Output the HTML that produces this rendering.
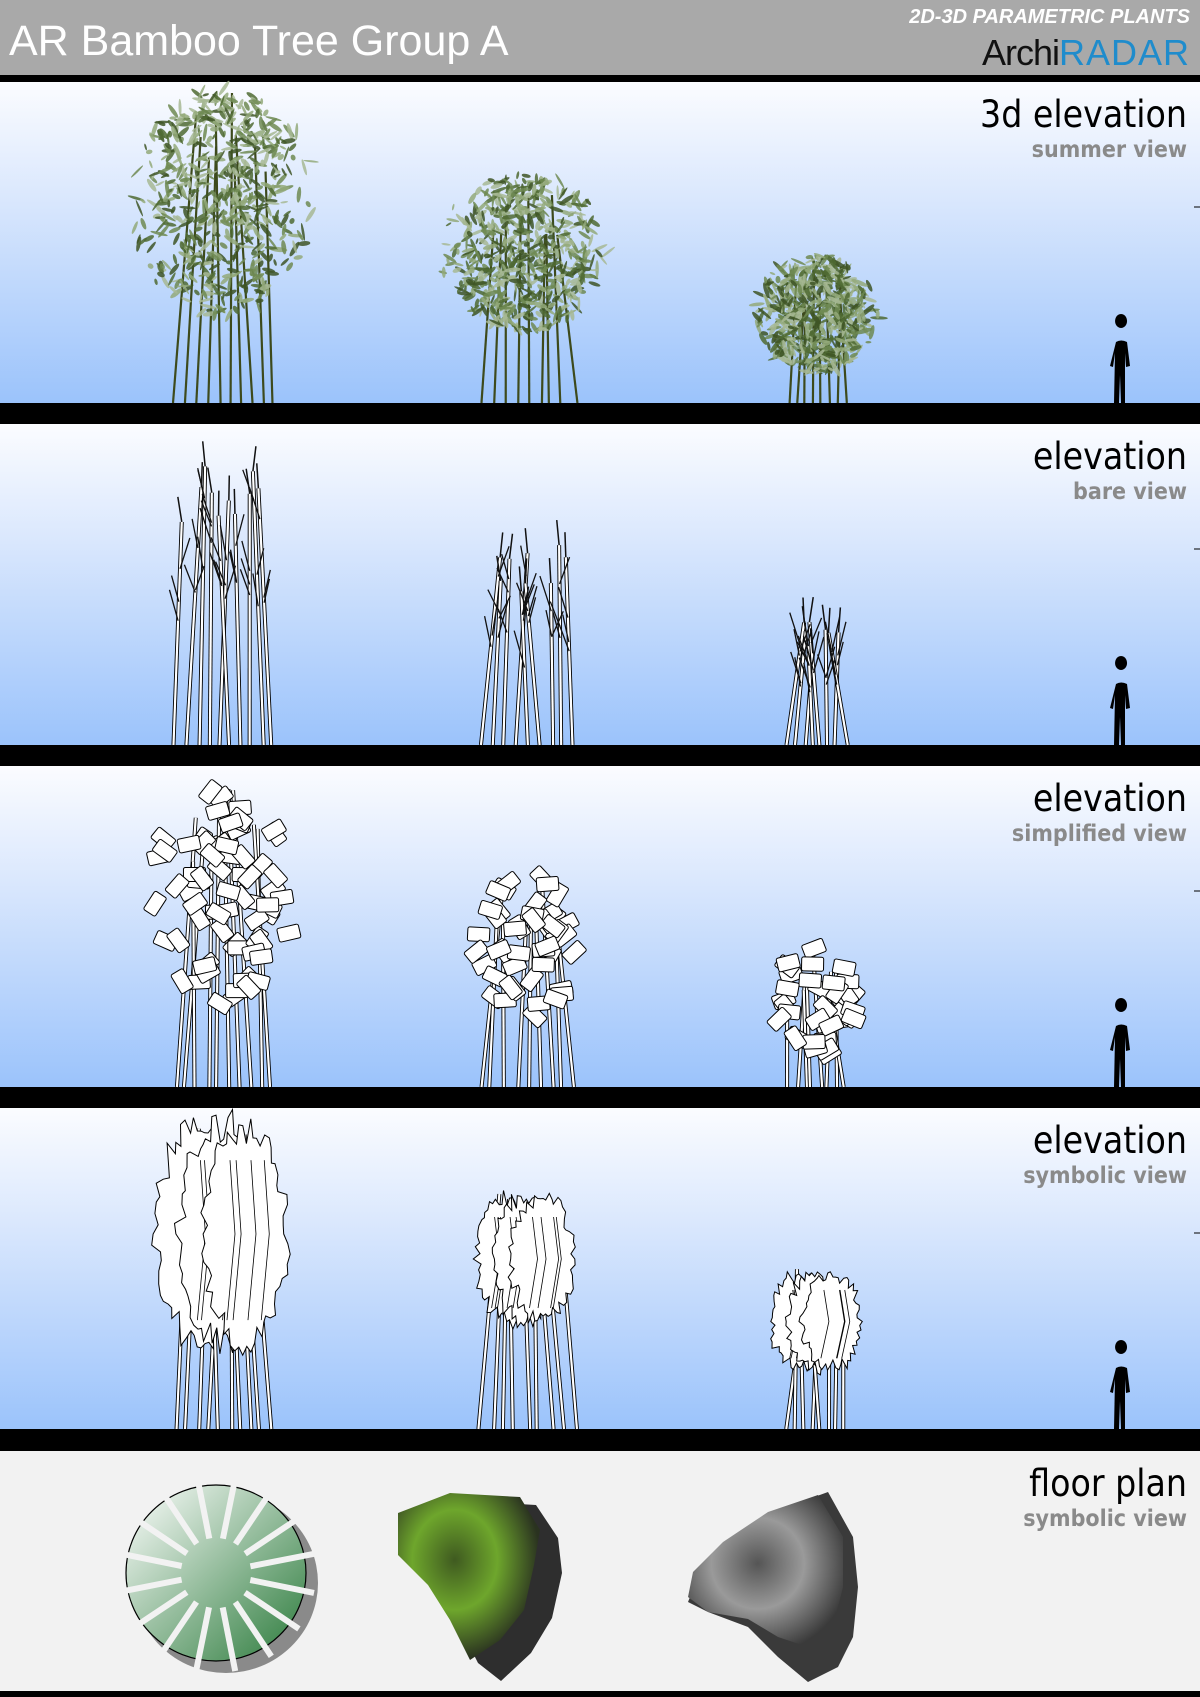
<!DOCTYPE html>
<html><head><meta charset="utf-8">
<style>
html,body{margin:0;padding:0;width:1200px;height:1697px;overflow:hidden;background:#f2f2f2}
#wrap{position:relative;width:1200px;height:1697px}
.hdr{position:absolute;left:0;top:0;width:1200px;height:75px;background:#a9a9a9}
.bar{position:absolute;left:0;width:1200px;background:#000}
.sky{position:absolute;left:0;width:1200px;height:321px;background:linear-gradient(#fbfcff,#dbe8fd 35%,#9bc3fb)}
.title{position:absolute;left:9px;top:17px;font:43px "Liberation Sans",sans-serif;color:#fff;white-space:nowrap}
.t2{position:absolute;right:10px;top:6px;font:italic bold 20px "Liberation Sans",sans-serif;color:#fff}
.logo{position:absolute;right:10px;top:32px;font:36px "Liberation Sans",sans-serif;white-space:nowrap}
.lb{position:absolute;right:13px;text-align:right;font-family:"DejaVu Sans Condensed","DejaVu Sans",sans-serif;color:#000;font-size:37px;line-height:42px}
.lb span{display:block;font-weight:bold;font-size:23px;color:#8a8a8a;line-height:28px}
svg{position:absolute;left:0;top:0}
</style></head><body><div id="wrap">
<div class="hdr"></div>
<div class="title">AR Bamboo Tree Group A</div>
<div class="t2">2D-3D PARAMETRIC PLANTS</div>
<div class="logo"><span style="font-weight:100;color:#111;letter-spacing:-1px">Archi</span><span style="color:#1f8ccc;letter-spacing:1px">RADAR</span></div>
<div class="bar" style="top:75px;height:7px"></div>
<div class="sky" style="top:82px"></div><div class="bar" style="top:403px;height:21px"></div>
<div class="sky" style="top:424px"></div><div class="bar" style="top:745px;height:21px"></div>
<div class="sky" style="top:766px"></div><div class="bar" style="top:1087px;height:21px"></div>
<div class="sky" style="top:1108px"></div><div class="bar" style="top:1429px;height:22px"></div>
<div class="bar" style="top:1691px;height:6px"></div>

<svg id="s" width="1200" height="1697" viewBox="0 0 1200 1697">
<defs>
<linearGradient id="gg" x1="0" y1="0" x2="1" y2="1"><stop offset="0" stop-color="#ffffff"/><stop offset="1" stop-color="#2a7a3a"/></linearGradient>
<radialGradient id="gb" cx="0.4" cy="0.4" r="0.6"><stop offset="0" stop-color="#3f5a20"/><stop offset="0.5" stop-color="#6ea62c"/><stop offset="1" stop-color="#2a3220"/></radialGradient>
<radialGradient id="gy" cx="0.45" cy="0.45" r="0.6"><stop offset="0" stop-color="#555"/><stop offset="0.5" stop-color="#9a9a9a"/><stop offset="1" stop-color="#3a3a3a"/></radialGradient>
<path id="man" d="M8 0 a6 7 0 1 1 0.1 0 M3 14 q5-3 11 0 l3 24 -4 1 -1 -14 0 50 -4 0 -1 -28 -1 28 -5 0 1 -50 -2 14 -3 -1z"/>
</defs>
<g id="tr"></g>
<g stroke="#000" stroke-width="1"><line x1="1194" y1="207" x2="1200" y2="207"/><line x1="1194" y1="549" x2="1200" y2="549"/><line x1="1194" y1="891" x2="1200" y2="891"/><line x1="1194" y1="1233" x2="1200" y2="1233"/></g>
<g fill="#000">
<use href="#man" transform="translate(1113,328)"/>
<use href="#man" transform="translate(1113,670)"/>
<use href="#man" transform="translate(1113,1012)"/>
<use href="#man" transform="translate(1113,1354)"/>
</g>
<g transform="translate(216,1573)">
<ellipse cx="10" cy="10" rx="92" ry="90" fill="#8a8a8a"/>
<ellipse cx="0" cy="0" rx="90" ry="88" fill="url(#gg)" stroke="#000" stroke-width="1.2"/>
<g id="cuts" stroke="#f2f2f2" stroke-width="6"></g>
</g>
<g transform="translate(490,1585)">
<path id="gbl" d="M-92,-72 L-40,-92 30,-88 52,-55 56,-20 46,25 25,60 -5,88 -28,70 -48,30 -70,-5 -95,-35Z" fill="#2e2e2e" transform="translate(16,8)"/>
<path d="M-92,-72 L-40,-92 30,-88 50,-55 44,-20 34,25 10,55 -20,75 -40,35 -62,0 -92,-30Z" fill="url(#gb)"/>
</g>
<g transform="translate(778,1587)">
<path d="M-80,-10 L-50,-45 -5,-75 50,-95 75,-50 80,0 75,50 60,80 30,95 0,70 -30,40 -70,25 -90,15Z" fill="#3a3a3a"/>
<path d="M-85,-15 L-55,-45 -10,-75 40,-92 65,-50 65,0 55,40 30,60 0,50 -30,32 -70,25 -90,10Z" fill="url(#gy)"/>
</g>
</svg>
<div class="lb" style="top:94px">3d elevation<span>summer view</span></div>
<div class="lb" style="top:436px">elevation<span>bare view</span></div>
<div class="lb" style="top:778px">elevation<span>simplified view</span></div>
<div class="lb" style="top:1120px">elevation<span>symbolic view</span></div>
<div class="lb" style="top:1463px">floor plan<span>symbolic view</span></div>
</div>
<script>
(function(){
var seed=7;function r(){seed=(seed*16807)%2147483647;return (seed-1)/2147483646;}
var out=[];function add(s){out.push(s);}
var grounds=[403,745,1087,1429];
var trees=[
 {x0:176,x1:272,cx:222,n:10},
 {x0:480,x1:575,cx:525,n:9},
 {x0:788,x1:845,cx:816,n:8}];
var geo=[ [ [-315,-85],[-231,-70],[-148,-30] ],
 [ [-290,-120],[-210,-60],[-125,-40] ],
 [ [-304,-70],[-220,-60],[-140,-30] ],
 [ [-318,-72],[-240,-100],[-160,-55] ] ];
var hws=[[90,80,60],[50,45,15],[70,50,40],[65,48,45]];
for(var p=0;p<4;p++){
 var g=grounds[p];
 for(var t=0;t<3;t++){
  var T=trees[t],top=g+geo[p][t][0],cb=g+geo[p][t][1],hw=hws[p][t];
  var cy=(top+cb)/2,ry=(cb-top)/2;
  var stems=[];
  for(var i=0;i<T.n;i++){var bx=T.x0+(T.x1-T.x0)*i/(T.n-1)+(r()-0.5)*6;var tx=T.cx+(bx-T.cx)*0.7+(r()-0.5)*20;var ty=top+r()*ry*0.8;stems.push([bx,tx,ty]);}
  if(p==0){
   stems.forEach(function(s){add('<line x1="'+s[0]+'" y1="'+g+'" x2="'+s[1]+'" y2="'+s[2]+'" stroke="#3d4a1c" stroke-width="2.2"/>');});
   var cols=["#4f6a32","#6f8a52","#93a97a","#3e5526","#a7b994"];
   for(var k=0;k<600;k++){var a=r()*6.283,d=Math.sqrt(r());var x=T.cx+Math.cos(a)*d*hw*(0.7+0.4*r()),y=cy+Math.sin(a)*d*ry;
    add('<ellipse cx="'+x.toFixed(1)+'" cy="'+y.toFixed(1)+'" rx="'+(3+r()*6).toFixed(1)+'" ry="'+(1+r()*1.5).toFixed(1)+'" transform="rotate('+(r()*180|0)+' '+x.toFixed(1)+' '+y.toFixed(1)+')" fill="'+cols[k%5]+'" opacity="0.85"/>');}
  } else {
   stems.forEach(function(s){add('<line x1="'+s[0]+'" y1="'+g+'" x2="'+s[1]+'" y2="'+s[2]+'" stroke="#000" stroke-width="4"/><line x1="'+s[0]+'" y1="'+g+'" x2="'+s[1]+'" y2="'+s[2]+'" stroke="#fff" stroke-width="2.2"/>');});
   if(p==1){
    stems.forEach(function(s){for(var b=0;b<3;b++){var f=0.1+r()*0.4;var x=s[1]+(s[0]-s[1])*f,y=s[2]+(g-s[2])*f;var dx=(r()<0.5?-1:1)*(5+r()*7);add('<line x1="'+x+'" y1="'+y+'" x2="'+(x+dx)+'" y2="'+(y-22-r()*15)+'" stroke="#111" stroke-width="1.3"/>');}
     add('<line x1="'+s[1]+'" y1="'+s[2]+'" x2="'+(s[1]+(r()-0.5)*8)+'" y2="'+(s[2]-25)+'" stroke="#111" stroke-width="1.5"/>');});
   } else if(p==2){
    var n=[70,45,35][t];
    for(var k=0;k<n;k++){var a=r()*6.283,d=Math.sqrt(r());var x=T.cx+Math.cos(a)*d*hw,y=cy+Math.sin(a)*d*ry;
     add('<rect x="'+(x-11)+'" y="'+(y-7)+'" width="22" height="14" rx="2" transform="rotate('+((r()*120-60)|0)+' '+x+' '+y+')" fill="#fff" stroke="#000" stroke-width="1"/>');}
   } else {
    for(var L=0;L<3;L++){var pts=[];var ox=(L-1)*hw*0.35,rx=hw*0.7;var N=70;
     for(var k=0;k<N;k++){var a=k/N*6.283;var j=0.8+r()*0.25;pts.push((T.cx+ox+Math.cos(a)*rx*j).toFixed(1)+','+(cy+Math.sin(a)*ry*j*(0.9+0.1*r())).toFixed(1));}
     add('<polygon points="'+pts.join(' ')+'" fill="#fff" stroke="#000" stroke-width="1"/>');
     for(var k=0;k<4;k++){var x=T.cx+ox+(r()-0.5)*rx;add('<polyline points="'+x+','+(top+ry*0.4)+' '+(x+5)+','+(cy)+' '+(x-3)+','+(cb-ry*0.3)+'" fill="none" stroke="#000" stroke-width="0.8"/>');}
    }
   }
  }
 }
}
document.getElementById("tr").innerHTML=out.join("");
var c=[];for(var i=0;i<16;i++){var a=i/16*6.283+0.2;c.push('<line x1="'+(Math.cos(a)*35).toFixed(1)+'" y1="'+(Math.sin(a)*35).toFixed(1)+'" x2="'+(Math.cos(a)*100).toFixed(1)+'" y2="'+(Math.sin(a)*100).toFixed(1)+'"/>');}
document.getElementById("cuts").innerHTML=c.join("");
})();
</script>
</body></html>
